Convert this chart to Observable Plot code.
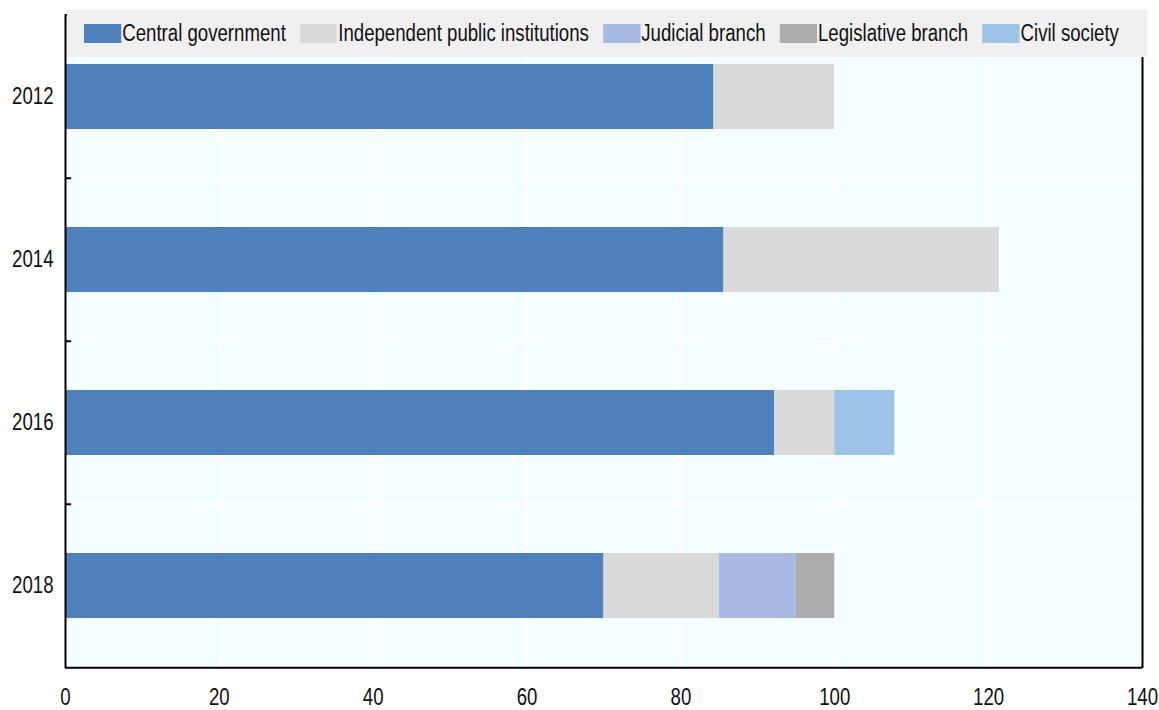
<!DOCTYPE html>
<html>
<head>
<meta charset="utf-8">
<script src="https://cdn.jsdelivr.net/npm/d3@7"></script>
<script src="https://cdn.jsdelivr.net/npm/@observablehq/plot@0.6"></script>
<style>
  body { margin: 0; background: white; }
  #wrap { position: relative; width: 1159px; height: 710px; font-family: "Liberation Sans", Arial, sans-serif; }
  #legend { position: absolute; left: 67px; top: 10px; width: 1080px; height: 47px; background: #f0f0f0;
    box-sizing: border-box; padding-left: 17px; overflow: hidden; }
  #legendRow { display: flex; align-items: center; height: 47px; font-size: 23px; color: #111;
    transform: scaleX(0.81); transform-origin: left center; white-space: nowrap; width: max-content; }
  .item { display: flex; align-items: center; margin-right: 17.5px; white-space: nowrap; }
  .sw { width: 45.7px; height: 19px; margin-right: 1.5px; }
</style>
</head>
<body>
<div id="wrap"><div id="chart"></div><div id="legend"><div id="legendRow"></div></div></div>
<script>
const years = ["2012", "2014", "2016", "2018"];
const seriesNames = ["Central government", "Independent public institutions", "Judicial branch", "Legislative branch", "Civil society"];
const centralGovernment = [84.3, 85.6, 92.2, 70.0];
const independentInstitutions = [15.7, 35.8, 7.8, 15.0];
const judicialBranch = [0, 0, 0, 10.0];
const legislativeBranch = [0, 0, 0, 5.0];
const civilSociety = [0, 0, 7.8, 0];
const seriesColors = ["#4f81bd", "#dadada", "#a8b9e3", "#adadad", "#9dc3e6"];
const xTicks = [0, 20, 40, 60, 80, 100, 120, 140];

const seriesValues = [centralGovernment, independentInstitutions, judicialBranch, legislativeBranch, civilSociety];
const data = [];
years.forEach((yr, i) => {
  seriesNames.forEach((s, j) => {
    data.push({year: yr, series: s, value: seriesValues[j][i]});
  });
});

const W = 1159, H = 710, mL = 65, mR = 17, mT = 14, mB = 42;
const step = (H - mT - mB) / years.length;

const plot = Plot.plot({
  width: W, height: H,
  marginLeft: mL, marginRight: mR, marginTop: mT, marginBottom: mB,
  style: {fontFamily: "'Liberation Sans', Arial, sans-serif", fontSize: "23px", background: "white", color: "#111"},
  x: {domain: [0, 140], ticks: xTicks, tickSize: 0, tickPadding: 20, label: null},
  y: {domain: years, paddingInner: 0.6, paddingOuter: 0.3, tickSize: 0, tickPadding: 12, label: null},
  color: {domain: seriesNames, range: seriesColors},
  marks: [
    Plot.frame({fill: "#f4ffff", stroke: null}),
    Plot.ruleX(xTicks, {stroke: "white", strokeWidth: 2}),
    Plot.ruleY(years, {stroke: "white", strokeWidth: 2, dy: -step / 2}),
    Plot.barX(data, Plot.stackX({x: "value", y: "year", fill: "series", order: seriesNames})),
    Plot.ruleY(years, {x1: 0, x2: 0.8, stroke: "black", strokeWidth: 2, dy: -step / 2}),
    Plot.ruleX([0], {stroke: "black", strokeWidth: 2}),
    Plot.ruleX([140], {stroke: "black", strokeWidth: 2}),
    Plot.ruleY([years[years.length - 1]], {stroke: "black", strokeWidth: 2, dy: step / 2})
  ]
});
document.getElementById("chart").appendChild(plot);

// condense axis text horizontally (narrow typeface look) without moving it
d3.select(plot).selectAll("text").each(function() {
  const len = this.getComputedTextLength();
  if (len > 0) {
    this.setAttribute("textLength", (len * 0.81).toFixed(2));
    this.setAttribute("lengthAdjust", "spacingAndGlyphs");
  }
});

const legendRow = document.getElementById("legendRow");
seriesNames.forEach((s, j) => {
  const it = document.createElement("div");
  it.className = "item";
  const sw = document.createElement("div");
  sw.className = "sw";
  sw.style.background = seriesColors[j];
  const tx = document.createElement("span");
  tx.textContent = s;
  it.appendChild(sw); it.appendChild(tx);
  legendRow.appendChild(it);
});
</script>
</body>
</html>
